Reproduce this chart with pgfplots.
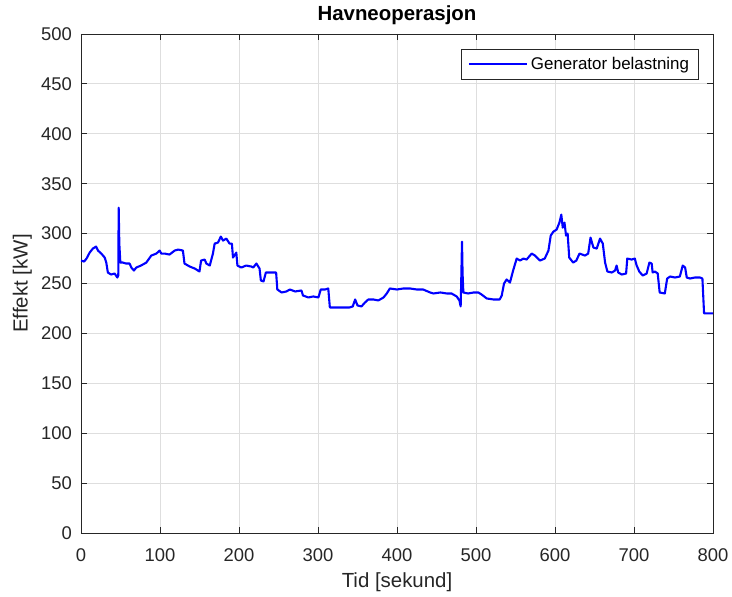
\documentclass[border=0pt]{standalone}
\usepackage{fontspec}
\setmainfont{Liberation Sans}
\usepackage{pgfplots}
\pgfplotsset{compat=1.18}
\usepackage{pgfplotstable}

\definecolor{axgray}{rgb}{0.15,0.15,0.15}
\definecolor{gridgray}{rgb}{0.87,0.87,0.87}

% Generator load during harbour operation: time [s], power [kW]
\pgfplotstableread{
t v
0 273
4 272
7 275
11 281
15 285
19 287
21.5 283
25.7 280
30 276
32 271
34 261
38 259
42.6 260
46 256
47.2 258
47.7 326
48.5 290
49.8 271
53 271
57 270
61.5 270
63.7 266
67 263
70 266
76 268
82.7 271
89 278
95.4 280
99.6 283
101.6 280
106 280
112 279
118.6 283
123 284
129 283
131 270
137.6 267
144 265
150 262
152 273
156.6 274
158.7 270
163 268
167 280
169.2 290
173.4 291
177 297
179.8 293
184 295
188 290
191 290
192.4 276
196.6 281
198 268
203 266
209 268
215.6 267
218 266
222 270
226 265
227.7 253
231 252
234 261
239 261
247 261
248.5 244
254 241
260 242
264.4 244
271 242
279 243
281 238
287.8 236
294 237
300.5 236
303.5 244
309 244
313 245
315 226
323.6 226
332 226
340 226
344 227
347 234
350 228
355 227
359.5 231
363.7 234
370 234
376.3 233
383 236
387 240
391 245
400 244
408 245
416.5 245
425 244
433 244
442 241
446 240
455 241
463 240
469 240
475.6 237
479 233
480.6 227
481.5 260
482.3 292
483 260
484 241
490 240
497 241
503 241
507 239
513.6 235
522 234
530 234
532.6 238
535.5 250
538.8 254
543 251
547 263
551.5 275
555.8 273
560 275
564 274
570.5 280
574.7 278
581 273
587 275
591.7 283
594.6 298
598 302
602 304
605.6 311
608 319
609.8 306
612 311
614 298
616 300
618 276
623 271
627 273
631 280
638 278
642 280
645 296
648.6 286
652.8 285
657 295
660.5 290
663.4 271
666.3 262
672 261
676 263
678 268
680 261
684.5 259
690 260
691.5 275
697 274
701 275
703.4 268
706.7 262
711 258
716 260
719.5 271
722.4 270
723.6 261
726.6 262
730 260
732.5 241
739 240
742 255
745.7 257
752 256
758 257
761.7 268
764.7 266
766.8 256
771 255
777 256
783.6 256
786.6 255
788.7 220
794 220
800 220
}\loadtable

\begin{document}
\begin{tikzpicture}
\useasboundingbox (-81bp,-64bp) rectangle (651bp,533bp);
\begin{axis}[
  at={(0,0)}, anchor=south west,
  scale only axis,
  width=632bp, height=499bp,
  xmin=0, xmax=800, ymin=0, ymax=500,
  xtick={0,100,...,800},
  ytick={0,50,...,500},
  /pgf/number format/assume math mode=true,
  tick align=inside,
  major tick length=6bp,
  axis line style={draw=axgray, line width=0.9bp},
  every tick/.style={draw=axgray, line width=0.9bp},
  grid=major,
  major grid style={draw=gridgray, line width=0.8bp},
  tick label style={font=\fontsize{18.5}{22}\selectfont, text=axgray},
  xticklabel style={anchor=base, inner sep=0pt, yshift=-28bp},
  yticklabel style={anchor=east, inner sep=0pt, xshift=-9bp},
  title={\textbf{Havneoperasjon}},
  title style={at={([yshift=7.5bp]axis description cs:0.5,1)}, anchor=base,
    inner sep=0pt, font=\fontsize{20.5}{24}\selectfont},
  xlabel={Tid [sekund]},
  xlabel style={at={([yshift=-54.7bp]axis description cs:0.5,0)}, anchor=base,
    inner sep=0pt, font=\fontsize{20.5}{24}\selectfont, text=axgray},
  ylabel={Effekt [kW]},
  ylabel style={at={([xshift=-53.3bp]axis description cs:0,0.5)}, anchor=base,
    inner sep=0pt, font=\fontsize{20.5}{24}\selectfont, text=axgray},
  legend style={at={(0.9778,0.970)}, anchor=north east,
    draw=axgray, line width=0.7bp, fill=white,
    inner xsep=6.5bp, inner ysep=4.5bp,
    font=\fontsize{17}{20}\selectfont,
    nodes={inner xsep=3bp, inner ysep=3.5bp}},
  legend image code/.code={\draw[#1] (0bp,0bp) -- (58bp,0bp);},
]
\addplot[color=blue, line width=2.1bp, line join=round] table[x=t, y=v] {\loadtable};
\addlegendentry{Generator belastning}
\end{axis}
\end{tikzpicture}
\end{document}
